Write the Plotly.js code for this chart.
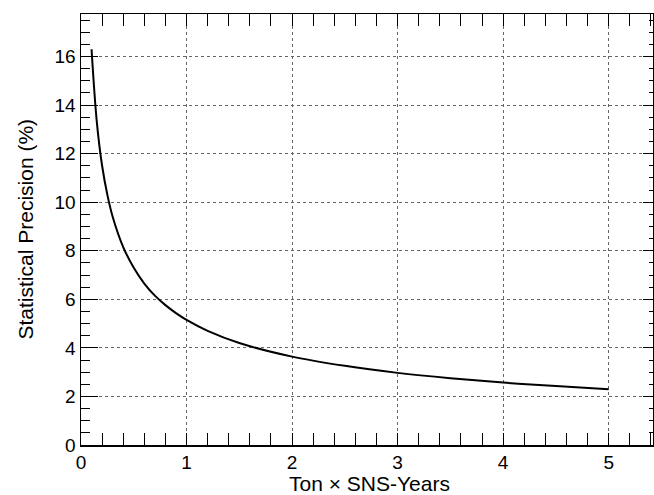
<!DOCTYPE html>
<html>
<head>
<meta charset="utf-8">
<script src="https://cdn.plot.ly/plotly-3.0.1.min.js"></script>
<style>html,body{margin:0;padding:0;background:#fff;}#chart{width:654px;height:495px;}</style>
</head>
<body>
<div id="chart"></div>
<script>
// Exposure (Ton x SNS-Years) and statistical precision (%)
const exposure = [0.1, 0.15, 0.2, 0.25, 0.3, 0.4, 0.5, 0.6, 0.7, 0.8, 0.9, 1.0, 1.2, 1.5, 2.0, 2.5, 3.0, 3.5, 4.0, 4.5, 5.0];
const precision = [16.3, 13.3, 11.5, 10.3, 9.4, 8.15, 7.3, 6.65, 6.15, 5.76, 5.43, 5.15, 4.7, 4.2, 3.64, 3.26, 2.97, 2.75, 2.57, 2.43, 2.3];
const xTickVals = [0, 1, 2, 3, 4, 5];
const yTickVals = [0, 2, 4, 6, 8, 10, 12, 14, 16];
const xTitle = 'Ton \u00d7 SNS-Years';
const yTitle = 'Statistical Precision (%)';

const tickFont = {family: 'Liberation Sans, Arial, sans-serif', size: 19, color: '#000'};
const titleFont = {family: 'Liberation Sans, Arial, sans-serif', size: 21, color: '#000'};

const trace = {
  x: exposure, y: precision, type: 'scatter', mode: 'lines',
  line: {color: '#000', width: 2, shape: 'spline', smoothing: 1},
  hoverinfo: 'skip', showlegend: false
};

const layout = {
  width: 654, height: 495,
  margin: {l: 81, r: 1, t: 14, b: 50, pad: 0},
  paper_bgcolor: '#fff', plot_bgcolor: '#fff',
  font: tickFont,
  showlegend: false,
  xaxis: {
    range: [0, 5.42], tickmode: 'array', tickvals: xTickVals,
    ticks: 'inside', ticklen: 12, tickwidth: 1, tickcolor: '#000',
    minor: {dtick: 0.2, tick0: 0, ticks: 'inside', ticklen: 6, tickwidth: 1, tickcolor: '#000', showgrid: false},
    showline: true, linecolor: '#000', linewidth: 1.5, mirror: 'allticks',
    showgrid: true, gridcolor: '#666', griddash: 'dot', gridwidth: 1,
    zeroline: false, tickfont: tickFont, ticklabelstandoff: 0
  },
  yaxis: {
    range: [0, 17.75], tickmode: 'array', tickvals: yTickVals,
    ticks: 'inside', ticklen: 17, tickwidth: 1, tickcolor: '#000',
    minor: {dtick: 0.5, tick0: 0, ticks: 'inside', ticklen: 9, tickwidth: 1, tickcolor: '#000', showgrid: false},
    showline: true, linecolor: '#000', linewidth: 1.5, mirror: true,
    showgrid: true, gridcolor: '#666', griddash: 'dot', gridwidth: 1,
    zeroline: false, tickfont: tickFont, ticklabelstandoff: 0
  },
  yaxis2: {
    range: [0, 17.75], overlaying: 'y', side: 'right', tickmode: 'array', tickvals: yTickVals,
    ticks: 'inside', ticklen: 10, tickwidth: 1, tickcolor: '#000',
    minor: {dtick: 0.5, tick0: 0, ticks: 'inside', ticklen: 4, tickwidth: 1, tickcolor: '#000', showgrid: false},
    showticklabels: false, showgrid: false, zeroline: false, showline: false
  },
  annotations: [
    {text: xTitle, xref: 'paper', yref: 'paper', x: 0.505, y: 0, xanchor: 'center', yanchor: 'middle',
     yshift: -38, borderpad: 0, showarrow: false, font: titleFont},
    {text: yTitle, xref: 'paper', yref: 'paper', x: 0, y: 0.5, xanchor: 'center', yanchor: 'middle',
     xshift: -56, borderpad: 0, textangle: -90, showarrow: false, font: titleFont}
  ]
};

const dummy = {x: [0], y: [0], yaxis: 'y2', type: 'scatter', mode: 'markers', marker: {opacity: 0}, hoverinfo: 'skip', showlegend: false};

Plotly.newPlot('chart', [trace, dummy], layout, {displayModeBar: false, staticPlot: true});
</script>
</body>
</html>
